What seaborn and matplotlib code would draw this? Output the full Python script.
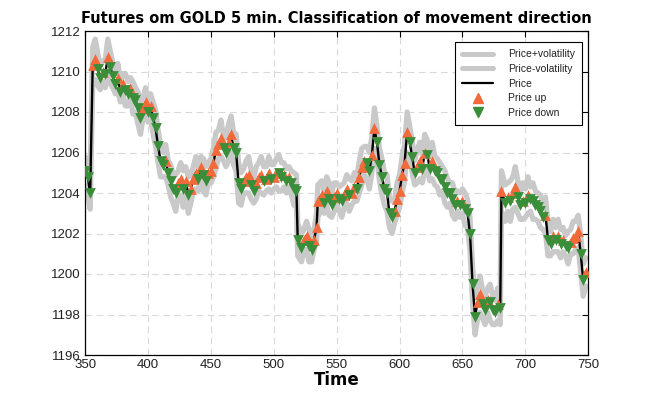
import numpy as np
import pandas as pd
import matplotlib
matplotlib.use("Agg")
import matplotlib.pyplot as plt
import seaborn as sns
from matplotlib.lines import Line2D

TITLE = "Futures om GOLD 5 min. Classification of movement direction"
XLABEL = "Time"

TIME = [
    350, 352, 354, 356, 358, 360, 362, 364, 366, 368,
    370, 372, 374, 376, 378, 380, 382, 384, 386, 388,
    390, 392, 394, 396, 398, 400, 402, 404, 406, 408,
    410, 412, 414, 416, 418, 420, 422, 424, 426, 428,
    430, 432, 434, 436, 438, 440, 442, 444, 446, 448,
    450, 452, 454, 456, 458, 460, 462, 464, 466, 468,
    470, 472, 474, 476, 478, 480, 482, 484, 486, 488,
    490, 492, 494, 496, 498, 500, 502, 504, 506, 508,
    510, 512, 514, 516, 518, 519, 522, 524, 526, 528,
    530, 532, 534, 535, 538, 540, 542, 544, 546, 548,
    550, 552, 554, 556, 558, 560, 562, 564, 566, 568,
    570, 572, 574, 576, 578, 580, 582, 584, 586, 588,
    590, 592, 594, 596, 598, 600, 602, 604, 606, 608,
    610, 612, 614, 616, 618, 620, 622, 624, 626, 628,
    630, 632, 634, 636, 638, 640, 642, 644, 646, 648,
    650, 652, 654, 656, 658, 660, 662, 664, 666, 668,
    670, 672, 674, 676, 678, 680, 681, 684, 686, 688,
    690, 692, 694, 696, 698, 700, 702, 704, 706, 708,
    710, 712, 714, 716, 718, 720, 722, 724, 726, 728,
    730, 732, 734, 736, 738, 740, 742, 744, 746, 748,
]

PRICE = [
    1205.1, 1204.8, 1204.0, 1210.3, 1210.6, 1210.1, 1209.7, 1210.0, 1209.9, 1210.7,
    1210.2, 1209.8, 1209.4, 1209.7, 1209.0, 1209.4, 1209.1, 1208.9, 1209.2, 1208.7,
    1208.6, 1208.2, 1207.7, 1208.2, 1208.5, 1208.0, 1208.3, 1207.7, 1207.2, 1206.3,
    1205.6, 1205.4, 1205.6, 1205.0, 1204.6, 1204.2, 1204.0, 1204.5, 1204.7, 1204.2,
    1204.6, 1203.9, 1204.2, 1204.7, 1205.0, 1204.7, 1205.3, 1204.9, 1204.6, 1205.0,
    1205.1, 1205.5, 1206.1, 1206.4, 1206.7, 1206.2, 1206.0, 1206.5, 1206.9, 1206.2,
    1206.0, 1204.5, 1204.2, 1204.6, 1204.8, 1204.9, 1204.4, 1204.1, 1204.5, 1204.8,
    1204.9, 1204.6, 1204.7, 1205.0, 1204.7, 1204.8, 1205.0, 1205.0, 1204.8, 1204.9,
    1204.6, 1204.8, 1204.5, 1204.2, 1204.1, 1201.7, 1201.3, 1201.7, 1201.9, 1201.4,
    1201.2, 1201.7, 1202.3, 1203.6, 1203.9, 1203.5, 1204.1, 1203.7, 1203.4, 1203.8,
    1204.0, 1203.7, 1203.6, 1203.9, 1204.2, 1203.9, 1204.0, 1204.3, 1204.2, 1204.8,
    1205.3, 1205.6, 1205.5, 1205.1, 1205.9, 1207.2, 1206.5, 1205.4, 1204.8, 1204.2,
    1204.0, 1203.0, 1202.8, 1203.1, 1203.7, 1204.1, 1204.9, 1205.5, 1207.0, 1206.5,
    1205.8, 1205.0, 1205.3, 1205.6, 1205.2, 1206.0, 1205.9, 1205.2, 1205.6, 1205.1,
    1205.0, 1204.7, 1204.7, 1204.3, 1204.0, 1204.0, 1203.7, 1203.4, 1203.6, 1203.4,
    1203.6, 1203.2, 1203.0, 1202.0, 1199.5, 1197.9, 1198.6, 1199.0, 1198.5, 1198.2,
    1198.7, 1198.6, 1198.2, 1198.1, 1198.5, 1198.3, 1204.1, 1203.5, 1203.8, 1203.6,
    1204.0, 1204.3, 1203.8, 1203.4, 1203.6, 1203.5, 1203.9, 1203.7, 1203.6, 1203.4,
    1203.3, 1203.1, 1202.8, 1202.9, 1201.7, 1201.5, 1201.9, 1201.7, 1201.9, 1201.5,
    1201.7, 1201.4, 1201.3, 1201.6, 1201.8, 1201.9, 1202.1, 1201.0, 1199.7, 1200.1,
]

VOL = [
    0.7, 0.8, 0.8, 0.9, 1.0, 0.8, 0.6, 0.5, 0.7, 0.9,
    0.8, 0.6, 0.5, 0.7, 0.5, 0.5, 0.8, 0.6, 0.5, 0.8,
    0.6, 0.8, 0.8, 0.5, 0.7, 0.5, 0.6, 0.8, 0.9, 0.8,
    0.8, 0.6, 0.8, 0.6, 0.8, 0.7, 0.9, 0.6, 0.8, 0.9,
    0.7, 0.9, 0.7, 0.6, 0.8, 0.6, 0.5, 0.8, 0.7, 0.5,
    0.6, 0.7, 0.9, 0.7, 0.9, 0.6, 0.7, 0.9, 0.9, 0.8,
    0.9, 1.0, 0.8, 0.6, 0.8, 0.9, 0.7, 0.6, 0.8, 0.7,
    0.9, 0.7, 0.6, 0.8, 0.7, 0.6, 0.7, 0.9, 0.7, 0.6,
    0.6, 0.5, 0.6, 0.8, 0.8, 0.8, 0.7, 0.5, 0.7, 0.8,
    0.6, 0.5, 0.7, 0.8, 0.7, 0.5, 0.7, 0.8, 0.6, 0.7,
    0.5, 0.6, 0.8, 0.6, 0.7, 0.8, 0.6, 0.7, 0.6, 0.8,
    0.9, 0.7, 0.8, 0.9, 0.9, 1.0, 0.8, 0.8, 0.9, 0.8,
    0.9, 0.7, 0.8, 0.6, 0.8, 0.8, 0.9, 0.9, 1.0, 0.8,
    0.8, 0.6, 0.8, 0.9, 0.7, 0.9, 0.7, 0.6, 0.9, 0.7,
    0.7, 0.8, 0.6, 0.8, 0.7, 0.5, 0.8, 0.7, 0.5, 0.6,
    0.6, 0.8, 0.7, 0.8, 0.9, 0.9, 0.8, 0.9, 0.7, 0.7,
    0.6, 0.9, 0.7, 0.6, 0.8, 0.8, 1.0, 0.9, 0.7, 1.0,
    0.8, 1.0, 0.8, 0.7, 0.9, 0.7, 0.9, 0.6, 0.9, 0.7,
    0.7, 0.8, 0.6, 0.9, 0.8, 0.6, 0.8, 0.6, 0.8, 0.7,
    0.6, 0.5, 0.8, 0.6, 0.8, 0.7, 0.8, 0.9, 0.8, 0.7,
]

C_UP = "#F2693A"
C_DOWN = "#3A8E3A"
C_BAND = "#C9C9C9"

sns.set_style("white")
plt.rcParams["font.family"] = ["Liberation Sans", "DejaVu Sans"]
plt.rcParams["text.color"] = "black"

df = pd.DataFrame({"Time": TIME, "Price": PRICE, "Vol": VOL})
df["Upper"] = df["Price"] + df["Vol"]
df["Lower"] = df["Price"] - df["Vol"]
diff = df["Price"].diff().fillna(-1)
df["Dir"] = np.where(diff > 0, "up", "down")

fig = plt.figure(figsize=(6.5, 4.0), dpi=100)
ax = fig.add_axes([0.131, 0.1125, 0.774, 0.81])

sns.lineplot(data=df, x="Time", y="Upper", ax=ax, color=C_BAND, lw=3.8, zorder=1)
sns.lineplot(data=df, x="Time", y="Lower", ax=ax, color=C_BAND, lw=3.8, zorder=1)
sns.lineplot(data=df, x="Time", y="Price", ax=ax, color="black", lw=1.7, zorder=2)
up = df[df["Dir"] == "up"]
dn = df[df["Dir"] == "down"]
sns.scatterplot(data=up, x="Time", y="Price", ax=ax, marker="^", color=C_UP,
                s=60, linewidth=0, zorder=3)
sns.scatterplot(data=dn, x="Time", y="Price", ax=ax, marker="v", color=C_DOWN,
                s=60, linewidth=0, zorder=4)

ax.set_xlim(350, 750)
ax.set_ylim(1196, 1212)
ax.set_xticks(range(350, 751, 50))
ax.set_yticks(range(1196, 1213, 2))
ax.grid(True, linestyle=(0, (6, 4)), color="#d9d9d9", lw=0.8)
ax.tick_params(direction="in", top=True, right=True, length=4, width=0.8,
               labelsize=9.5, colors="black", labelcolor="#222222", pad=3)
for sp in ax.spines.values():
    sp.set_visible(True)
    sp.set_color("black")
    sp.set_linewidth(0.9)

ax.set_ylabel("")
ax.set_xlabel(XLABEL, fontsize=12, fontweight="bold", labelpad=0,
              family=["DejaVu Sans"], color="black")
ax.set_title(TITLE, fontsize=10.5, fontweight="bold", pad=6,
             family=["DejaVu Sans"], color="black")

handles = [
    Line2D([], [], color=C_BAND, lw=3.6),
    Line2D([], [], color=C_BAND, lw=3.6),
    Line2D([], [], color="black", lw=1.6),
    Line2D([], [], color=C_UP, marker="^", ls="none", markersize=7.5),
    Line2D([], [], color=C_DOWN, marker="v", ls="none", markersize=7.5),
]
labels = ["Price+volatility", "Price-volatility", "Price", "Price up", "Price down"]
leg = ax.legend(handles, labels, loc="upper right", bbox_to_anchor=(0.988, 0.966),
                borderaxespad=0, fontsize=7.5, frameon=True, fancybox=False,
                edgecolor="black", framealpha=1, borderpad=0.7, labelspacing=0.45,
                handlelength=3.0, handletextpad=1.4)
leg.get_frame().set_linewidth(0.8)
for t in leg.get_texts():
    t.set_color("#222222")

fig.savefig("out.png", dpi=100)
